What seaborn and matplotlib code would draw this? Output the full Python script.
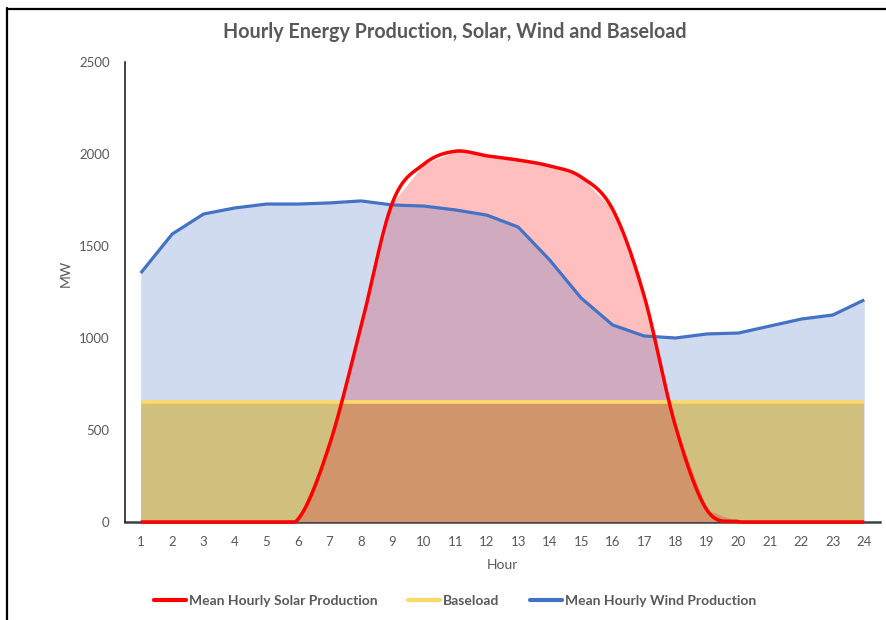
import numpy as np
import pandas as pd
import matplotlib
matplotlib.use("Agg")
import matplotlib.pyplot as plt
import seaborn as sns
from matplotlib.lines import Line2D

hours = list(range(1, 25))
solar = [0, 0, 0, 0, 0, 15, 420, 1060, 1735, 1945, 2015, 1990,
         1967, 1935, 1875, 1700, 1230, 520, 65, 2, 0, 0, 0, 0]
wind = [1353, 1565, 1674, 1707, 1728, 1728, 1734, 1745, 1723, 1717, 1696, 1668,
        1603, 1424, 1217, 1071, 1011, 1000, 1022, 1027, 1065, 1103, 1125, 1207]
baseload = [650] * 24
series_names = ["Mean Hourly Solar Production", "Baseload", "Mean Hourly Wind Production"]
title = "Hourly Energy Production, Solar, Wind and Baseload"

sns.set_theme(style="white")
plt.rcParams["font.family"] = ["Lato", "DejaVu Sans"]

RED = "#FF0000"
BLUE = "#4472C4"
YEL = "#FFD966"
GRAY = "#595959"


def smooth(xs, ys, n=40):
    xs = np.asarray(xs, float)
    ys = np.asarray(ys, float)
    px = np.concatenate([[xs[0]], xs, [xs[-1]]])
    py = np.concatenate([[ys[0]], ys, [ys[-1]]])
    ox, oy = [], []
    t = np.linspace(0, 1, n, endpoint=False)
    for i in range(1, len(px) - 2):
        x0, x1, x2, x3 = px[i - 1], px[i], px[i + 1], px[i + 2]
        y0, y1, y2, y3 = py[i - 1], py[i], py[i + 1], py[i + 2]
        cx1, cy1 = x1 + (x2 - x0) / 6, y1 + (y2 - y0) / 6
        cx2, cy2 = x2 - (x3 - x1) / 6, y2 - (y3 - y1) / 6
        bx = (1 - t) ** 3 * x1 + 3 * (1 - t) ** 2 * t * cx1 + 3 * (1 - t) * t ** 2 * cx2 + t ** 3 * x2
        by = (1 - t) ** 3 * y1 + 3 * (1 - t) ** 2 * t * cy1 + 3 * (1 - t) * t ** 2 * cy2 + t ** 3 * y2
        ox.extend(bx)
        oy.extend(by)
    ox.append(xs[-1])
    oy.append(ys[-1])
    return np.array(ox), np.maximum(np.array(oy), 0)


df = pd.DataFrame({"Hour": hours, "Solar": solar, "Wind": wind, "Baseload": baseload})
sx, sy = smooth(hours, solar)
sdf = pd.DataFrame({"Hour": sx, "Solar": sy})

fig = plt.figure(figsize=(8.87, 6.2), dpi=100)
ax = fig.add_axes([125 / 887, 1 - 522 / 620, (880 - 125) / 887, (522 - 62) / 620])

ax.fill_between(df["Hour"], 0, df["Baseload"], color=YEL, alpha=1.0, lw=0, zorder=1)
ax.fill_between(df["Hour"], 0, df["Solar"], color=RED, alpha=0.25, lw=0, zorder=2)
ax.fill_between(df["Hour"], 0, df["Wind"], color=BLUE, alpha=0.25, lw=0, zorder=3)

sns.lineplot(data=df, x="Hour", y="Wind", color=BLUE, lw=2.3, ax=ax, zorder=4)
sns.lineplot(data=df, x="Hour", y="Baseload", color=YEL, lw=2.6, ax=ax, zorder=5)
sns.lineplot(data=sdf, x="Hour", y="Solar", color=RED, lw=2.5, ax=ax, zorder=6,
             sort=False, estimator=None)
for ln in ax.lines:
    ln.set_clip_on(False)
    ln.set_solid_capstyle("butt")

ax.set_xlim(0.5, 24.5)
ax.set_ylim(0, 2500)
ax.set_xticks(hours)
ax.set_xticklabels([str(h) for h in hours])
ax.set_yticks([0, 500, 1000, 1500, 2000, 2500])
ax.tick_params(axis="both", length=0, labelsize=9.5, labelcolor=GRAY)
ax.tick_params(axis="x", pad=10)
ax.tick_params(axis="y", pad=11)
ax.set_xlabel("Hour", fontsize=10, color=GRAY, labelpad=8)
ax.set_ylabel("MW", fontsize=10, color=GRAY)
ax.yaxis.set_label_coords(-0.071, 0.54)

for s in ["top", "right"]:
    ax.spines[s].set_visible(False)
ax.spines["left"].set_color("#222222")
ax.spines["left"].set_linewidth(1.2)
ax.spines["bottom"].set_color("#404040")
ax.spines["bottom"].set_linewidth(1.8)
ax.spines["bottom"].set_zorder(0.5)

fig.text(455 / 887, 1 - 32 / 620, title, ha="center", va="center",
         fontsize=14.2, fontweight="bold", color=GRAY)

handles = [Line2D([], [], color=RED, lw=3),
           Line2D([], [], color=YEL, lw=3),
           Line2D([], [], color=BLUE, lw=3)]
leg = fig.legend(handles, series_names, loc="center", bbox_to_anchor=(455 / 887, 1 - 601 / 620),
                 ncol=3, frameon=False, handlelength=2.3, handletextpad=0.2, columnspacing=2.2,
                 prop={"weight": "bold", "size": 10})
for t in leg.get_texts():
    t.set_color(GRAY)

fig.add_artist(Line2D([7.5 / 887, 7.5 / 887], [0, 1 - 8 / 620], color="black", lw=1.6,
                      transform=fig.transFigure))
fig.add_artist(Line2D([7 / 887, 1], [1 - 8.5 / 620, 1 - 8.5 / 620], color="black", lw=1.6,
                      transform=fig.transFigure))

fig.savefig("out.png", dpi=100)
